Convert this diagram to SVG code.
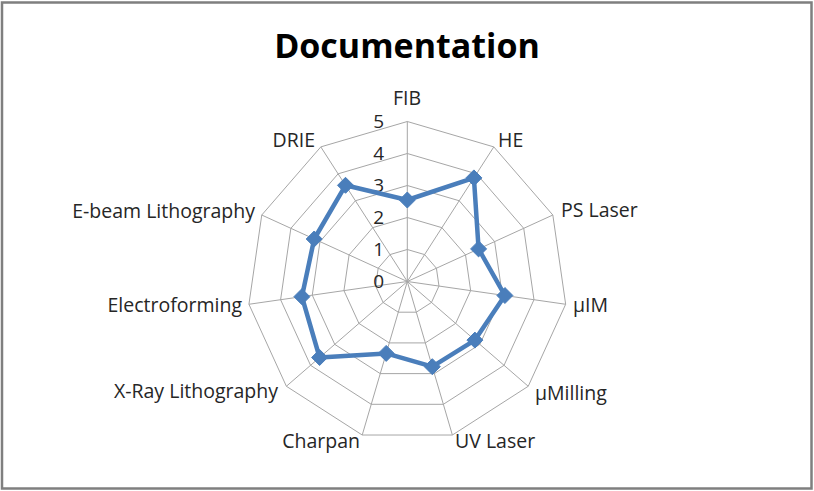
<svg xmlns="http://www.w3.org/2000/svg" width="814" height="491" viewBox="0 0 814 491">
<style>
.ring{fill:none;stroke:#a6a6a6;stroke-width:1}
.spoke{stroke:#a6a6a6;stroke-width:1}
.lbl{font-family:"Open Sans","Liberation Sans",sans-serif;font-size:19.5px;fill:#262626}
.tick{font-family:"Open Sans","Liberation Sans",sans-serif;font-size:19px;fill:#262626;text-anchor:end}
.title{font-family:"Open Sans","Liberation Sans",sans-serif;font-size:34px;font-weight:bold;fill:#000;text-anchor:middle}
.series{fill:none;stroke:#4a7ebb;stroke-width:4.5;stroke-linejoin:round}
.mk{fill:#4a7ebb;stroke:#4a7ebb;stroke-width:1}
</style>
<defs>
<path id="dia" d="M0,-8 L8,0 L0,8 L-8,0 Z"/>
</defs>
<rect x="0" y="0" width="814" height="491" fill="#ffffff"/>
<rect x="2" y="2.5" width="809.5" height="486" fill="none" stroke="#7f7f7f" stroke-width="2.5"/>
<text class="title" x="407" y="58">Documentation</text>
<g id="grid" transform="translate(407.3,281.5)">
<polygon class="ring" points="0,-32 17.30,-26.92 29.11,-13.29 31.67,4.55 24.18,20.96 9.02,30.70 -9.02,30.70 -24.18,20.96 -31.67,4.55 -29.11,-13.29 -17.30,-26.92"/>
<polygon class="ring" points="0,-64 34.60,-53.84 58.22,-26.59 63.35,9.11 48.37,41.91 18.03,61.41 -18.03,61.41 -48.37,41.91 -63.35,9.11 -58.22,-26.59 -34.60,-53.84"/>
<polygon class="ring" points="0,-96 51.90,-80.76 87.32,-39.88 95.02,13.66 72.55,62.87 27.05,92.11 -27.05,92.11 -72.55,62.87 -95.02,13.66 -87.32,-39.88 -51.90,-80.76"/>
<polygon class="ring" points="0,-128 69.20,-107.68 116.43,-53.17 126.70,18.22 96.74,83.82 36.06,122.81 -36.06,122.81 -96.74,83.82 -126.70,18.22 -116.43,-53.17 -69.20,-107.68"/>
<polygon class="ring" points="0,-160 86.50,-134.60 145.54,-66.47 158.37,22.77 120.92,104.78 45.08,153.52 -45.08,153.52 -120.92,104.78 -158.37,22.77 -145.54,-66.47 -86.50,-134.60"/>
<g class="spoke">
<line x1="0" y1="0" x2="0" y2="-160"/>
<line x1="0" y1="0" x2="86.50" y2="-134.60"/>
<line x1="0" y1="0" x2="145.54" y2="-66.47"/>
<line x1="0" y1="0" x2="158.37" y2="22.77"/>
<line x1="0" y1="0" x2="120.92" y2="104.78"/>
<line x1="0" y1="0" x2="45.08" y2="153.52"/>
<line x1="0" y1="0" x2="-45.08" y2="153.52"/>
<line x1="0" y1="0" x2="-120.92" y2="104.78"/>
<line x1="0" y1="0" x2="-158.37" y2="22.77"/>
<line x1="0" y1="0" x2="-145.54" y2="-66.47"/>
<line x1="0" y1="0" x2="-86.50" y2="-134.60"/>
</g>
</g>
<g id="ticks">
<text class="tick" x="384" y="128">5</text>
<text class="tick" x="384" y="160">4</text>
<text class="tick" x="384" y="192">3</text>
<text class="tick" x="384" y="224">2</text>
<text class="tick" x="384" y="256">1</text>
<text class="tick" x="384" y="288">0</text>
</g>
<g id="labels">
<g id="n-fib"><text class="lbl" x="407" y="105" text-anchor="middle">FIB</text></g>
<g id="n-he"><text class="lbl" x="498" y="147">HE</text></g>
<g id="n-ps"><text class="lbl" x="561" y="217">PS Laser</text></g>
<g id="n-uim"><text class="lbl" x="573" y="312">µIM</text></g>
<g id="n-umill"><text class="lbl" x="535" y="400">µMilling</text></g>
<g id="n-uv"><text class="lbl" x="455" y="448">UV Laser</text></g>
<g id="n-charpan"><text class="lbl" x="360" y="448" text-anchor="end">Charpan</text></g>
<g id="n-xray"><text class="lbl" x="278" y="398" text-anchor="end">X-Ray Lithography</text></g>
<g id="n-electro"><text class="lbl" x="242" y="312" text-anchor="end">Electroforming</text></g>
<g id="n-ebeam"><text class="lbl" x="255" y="218" text-anchor="end">E-beam Lithography</text></g>
<g id="n-drie"><text class="lbl" x="315" y="147" text-anchor="end">DRIE</text></g>
</g>
<g id="connectors" transform="translate(407.3,281.5)">
<polygon class="series" points="0,-81.5 66.6,-103.6 71.3,-32.6 97.6,14.0 67.6,58.6 25.0,85.2 -21.1,71.9 -87.7,76.0 -105.4,15.2 -93.1,-42.5 -61.8,-96.2"/>
<g class="mk">
<use href="#dia" x="0" y="-81.5"/>
<use href="#dia" x="66.6" y="-103.6"/>
<use href="#dia" x="71.3" y="-32.6"/>
<use href="#dia" x="97.6" y="14.0"/>
<use href="#dia" x="67.6" y="58.6"/>
<use href="#dia" x="25.0" y="85.2"/>
<use href="#dia" x="-21.1" y="71.9"/>
<use href="#dia" x="-87.7" y="76.0"/>
<use href="#dia" x="-105.4" y="15.2"/>
<use href="#dia" x="-93.1" y="-42.5"/>
<use href="#dia" x="-61.8" y="-96.2"/>
</g>
</g>
</svg>
